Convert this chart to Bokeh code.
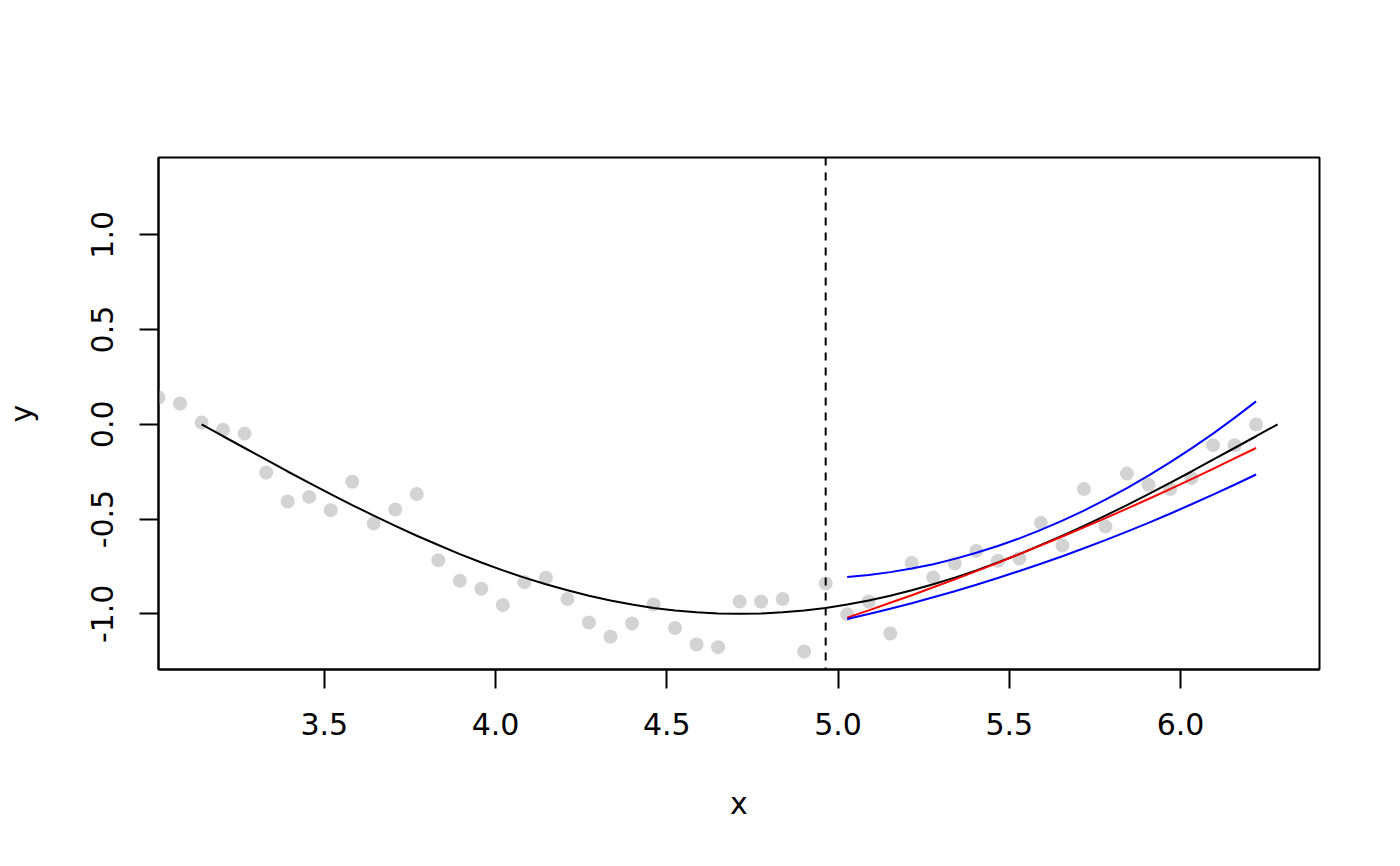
from bokeh.plotting import figure
from bokeh.models import Range1d, FixedTicker, PrintfTickFormatter, Span
from bokeh.embed import file_html
from bokeh.resources import INLINE

# ---------------- data ----------------
x_obs = [3.01593, 3.07876, 3.14159, 3.20442, 3.26726, 3.33009, 3.39292, 3.45575,
         3.51858, 3.58142, 3.64425, 3.70708, 3.76991, 3.83274, 3.89557, 3.95841,
         4.02124, 4.08407, 4.14690, 4.20973, 4.27257, 4.33540, 4.39823, 4.46106,
         4.52389, 4.58673, 4.64956, 4.71239, 4.77522, 4.83805, 4.90088, 4.96372,
         5.02655, 5.08938, 5.15221, 5.21504, 5.27788, 5.34071, 5.40354, 5.46637,
         5.52920, 5.59203, 5.65487, 5.71770, 5.78053, 5.84336, 5.90619, 5.96903,
         6.03186, 6.09469, 6.15752, 6.22035]
y_obs = [0.141, 0.110, 0.009, -0.029, -0.049, -0.254, -0.407, -0.383,
         -0.453, -0.303, -0.523, -0.450, -0.368, -0.717, -0.826, -0.868,
         -0.954, -0.833, -0.810, -0.922, -1.046, -1.121, -1.051, -0.951,
         -1.075, -1.162, -1.176, -0.935, -0.935, -0.922, -1.199, -0.840,
         -1.002, -0.935, -1.104, -0.732, -0.808, -0.735, -0.668, -0.720,
         -0.708, -0.520, -0.640, -0.342, -0.539, -0.260, -0.319, -0.342,
         -0.284, -0.110, -0.110, -0.001]

truth_x = x_obs[2:] + [6.28319]
truth_y = [0.000, -0.063, -0.125, -0.187, -0.249, -0.309, -0.368, -0.426, -0.482,
           -0.536, -0.588, -0.637, -0.685, -0.729, -0.771, -0.809, -0.844, -0.876,
           -0.905, -0.930, -0.951, -0.969, -0.982, -0.992, -0.998, -1.000, -0.998,
           -0.992, -0.982, -0.969, -0.951, -0.930, -0.905, -0.876, -0.844, -0.809,
           -0.771, -0.729, -0.685, -0.637, -0.588, -0.536, -0.482, -0.426, -0.368,
           -0.309, -0.249, -0.187, -0.125, -0.063, 0.000]

cutoff_x = 4.96372
fc_x = x_obs[32:]
fc_mean = [-1.020, -0.982, -0.942, -0.902, -0.860, -0.818, -0.775, -0.731, -0.685, -0.639,
           -0.592, -0.544, -0.495, -0.445, -0.394, -0.342, -0.289, -0.235, -0.180, -0.125]
fc_lower = [-1.027, -1.001, -0.973, -0.944, -0.913, -0.881, -0.847, -0.811, -0.774, -0.736,
            -0.696, -0.654, -0.611, -0.566, -0.520, -0.472, -0.422, -0.371, -0.319, -0.265]
fc_upper = [-0.806, -0.795, -0.780, -0.761, -0.738, -0.710, -0.678, -0.642, -0.602, -0.557,
            -0.508, -0.455, -0.398, -0.337, -0.271, -0.201, -0.127, -0.049, 0.034, 0.121]

x_ticks = [3.5, 4.0, 4.5, 5.0, 5.5, 6.0]
y_ticks = [-1.0, -0.5, 0.0, 0.5, 1.0]

# ---------------- figure ----------------
FONT = "DejaVu Sans"
p = figure(width=1384, height=850, output_backend="svg", toolbar_location=None,
           x_range=Range1d(3.0158, 6.4055), y_range=Range1d(-1.2939, 1.408),
           min_border_left=157, min_border_right=65, min_border_top=157,
           min_border_bottom=181, x_axis_label="x", y_axis_label="y")
p.title.visible = False
p.background_fill_color = "white"
p.border_fill_color = "white"
p.outline_line_color = "black"
p.outline_line_width = 2
p.xgrid.visible = False
p.ygrid.visible = False

p.xaxis.ticker = FixedTicker(ticks=x_ticks)
p.yaxis.ticker = FixedTicker(ticks=y_ticks)
for ax in (p.xaxis[0], p.yaxis[0]):
    ax.formatter = PrintfTickFormatter(format="%.1f")
    ax.major_label_text_font = FONT
    ax.major_label_text_font_size = "30px"
    ax.major_label_text_color = "black"
    ax.axis_label_text_font = FONT
    ax.axis_label_text_font_size = "30px"
    ax.axis_label_text_font_style = "normal"
    ax.axis_label_text_color = "black"
    ax.major_tick_in = 0
    ax.major_tick_out = 19
    ax.major_tick_line_width = 2
    ax.major_tick_line_color = "black"
    ax.minor_tick_line_color = None
    ax.axis_line_color = "black"
    ax.axis_line_width = 2
p.xaxis[0].major_label_standoff = 24
p.xaxis[0].axis_label_standoff = 48
p.yaxis[0].major_label_standoff = 26
p.yaxis[0].axis_label_standoff = 50
p.yaxis[0].major_label_orientation = "parallel"

p.scatter(x_obs, y_obs, size=14, fill_color="#D3D3D3", line_color=None)
p.line(truth_x, truth_y, line_color="black", line_width=2)
p.add_layout(Span(location=cutoff_x, dimension="height", line_color="black",
                  line_width=2, line_dash="8 7"))
p.line(fc_x, fc_mean, line_color="#FF0000", line_width=2)
p.line(fc_x, fc_upper, line_color="#0000FF", line_width=2)
p.line(fc_x, fc_lower, line_color="#0000FF", line_width=2)

open("out.html", "w").write(file_html(p, INLINE))
